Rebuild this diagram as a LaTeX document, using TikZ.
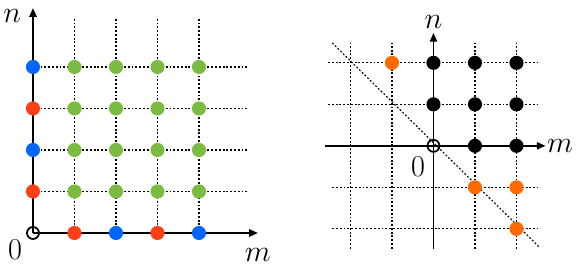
\documentclass[tikz,border=0pt]{standalone}
\usepackage{amsmath}
\usetikzlibrary{arrows.meta}
\definecolor{ptblue}{HTML}{0066FF}
\definecolor{ptred}{HTML}{FF4016}
\definecolor{ptgreen}{HTML}{7CBB42}
\definecolor{ptorange}{HTML}{FF6A00}

\begin{document}
\begin{tikzpicture}[
  every node/.style={font=\fontsize{22}{26}\selectfont},
  latdot/.style={circle, inner sep=0pt, minimum size=0.34cm, draw=none},
  origdot/.style={circle, inner sep=0pt, minimum size=0.29cm, draw=black, line width=1.2pt},
  axisline/.style={line width=1.1pt, -{Triangle[length=6pt,width=5pt]}},
  gridline/.style={line width=0.75pt, dash pattern=on 1.3pt off 1.3pt},
]
\useasboundingbox (-0.795,-0.819) rectangle (13.229,5.614);

% (a) quarter plane
\foreach \i in {1,...,4} {
  \draw[gridline] (\i,0) -- (\i,5.18);
  \draw[gridline] (0,\i) -- (5.16,\i);
}
\coordinate (lo) at (0,0);
\coordinate (lmend) at (5.42,0);
\coordinate (lnend) at (0,5.42);
\draw[axisline] (lo) -- (lmend);
\draw[axisline] (lo) -- (lnend);
\node (lmlab) at (5.42,-0.53) {$m$};
\node[inner sep=1pt] (lnlab) at (-0.5,5.22) {$n$};
\node (lzero) at (-0.43,-0.41) {$0$};

\foreach \i in {1,...,4}
  \foreach \j in {1,...,4}
    \node[latdot, fill=ptgreen] (g\i\j) at (\i,\j) {};
\foreach \i/\c in {1/ptred, 2/ptblue, 3/ptred, 4/ptblue} {
  \node[latdot, fill=\c] (bx\i) at (\i,0) {};
  \node[latdot, fill=\c] (by\i) at (0,\i) {};
}
\node[origdot] (lorig) at (lo) {};

% (b) half plane
\begin{scope}[shift={(9.65,2.1)}]
  \foreach \i in {-2,-1,1,2}
    \draw[gridline] (\i,-2.48) -- (\i,2.48);
  \foreach \j in {1,2}
    \draw[gridline] (-2.54,\j) -- (2.5,\j);
  \foreach \j in {-1,-2}
    \draw[gridline] (-2.44,\j) -- (2.5,\j);
  \draw[gridline] (-2.44,2.48) -- (2.57,-2.46);

  \coordinate (ro) at (0,0);
  \coordinate (rmbeg) at (-2.61,0);
  \coordinate (rmend) at (2.7,0);
  \coordinate (rnbeg) at (0,-2.48);
  \coordinate (rnend) at (0,2.72);
  \draw[axisline] (rmbeg) -- (rmend);
  \draw[axisline] (rnbeg) -- (rnend);
  \node (rmlab) at (3.05,0) {$m$};
  \node (rnlab) at (0,2.99) {$n$};
  \node (rzero) at (-0.37,-0.5) {$0$};

  \foreach \i/\j in {0/2, 1/2, 2/2, 0/1, 1/1, 2/1, 1/0, 2/0}
    \node[latdot, fill=black] (k\i\j) at (\i,\j) {};
  \foreach \i/\j/\nm in {-1/2/a, 1/-1/b, 2/-1/c, 2/-2/d}
    \node[latdot, fill=ptorange] (o\nm) at (\i,\j) {};
  \node[origdot] (rorig) at (ro) {};
\end{scope}

\end{tikzpicture}
\end{document}
